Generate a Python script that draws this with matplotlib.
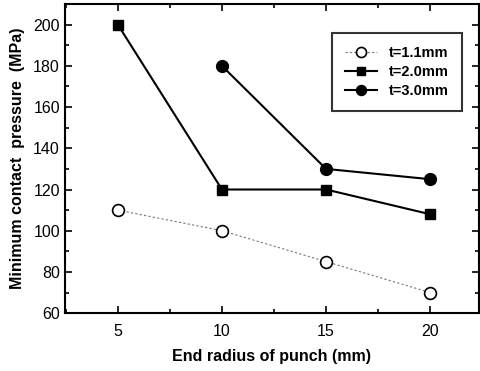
import numpy as np
import matplotlib.pyplot as plt
from matplotlib.ticker import MultipleLocator

plt.rcParams['font.family'] = ['Liberation Sans', 'DejaVu Sans']

# end radius of punch (mm)
radius_11 = [5, 10, 15, 20]
radius_20 = [5, 10, 15, 20]
radius_30 = [10, 15, 20]

# minimum contact pressure (MPa)
press_11 = [110, 100, 85, 70]
press_20 = [200, 120, 120, 108]
press_30 = [180, 130, 125]

labels = ['t=1.1mm', 't=2.0mm', 't=3.0mm']

fig = plt.figure(figsize=(4.8, 3.71), dpi=100)
ax = fig.add_axes([0.135, 0.156, 0.863, 0.833])

ax.plot(radius_11, press_11, color='#777777', lw=0.8, ls=(0, (2, 2)),
        marker='o', ms=8.5, mfc='white', mec='black', mew=1.2, label=labels[0])
ax.plot(radius_20, press_20, color='black', lw=1.5,
        marker='s', ms=7, mfc='black', mec='black', label=labels[1])
ax.plot(radius_30, press_30, color='black', lw=1.5,
        marker='o', ms=8.5, mfc='black', mec='black', label=labels[2])

ax.set_xlim(2.45, 22.35)
ax.set_ylim(60, 210)
ax.xaxis.set_major_locator(MultipleLocator(5))
ax.xaxis.set_minor_locator(MultipleLocator(2.5))
ax.yaxis.set_major_locator(MultipleLocator(20))
ax.yaxis.set_minor_locator(MultipleLocator(10))
ax.tick_params(which='both', direction='in', top=True, right=True, width=1.2)
ax.tick_params(which='major', length=5, labelsize=11.5)
ax.tick_params(axis='x', which='major', pad=8)
ax.tick_params(which='minor', length=3)
for s in ax.spines.values():
    s.set_linewidth(1.5)

ax.set_xlabel('End radius of punch (mm)', fontsize=11.5, fontweight='bold', labelpad=7)
ax.set_ylabel('Minimum contact  pressure  (MPa)', fontsize=11.5, fontweight='bold', labelpad=6)

leg = ax.legend(loc='upper right', bbox_to_anchor=(0.976, 0.93), frameon=True,
                fancybox=False, edgecolor='black',
                prop={'weight': 'bold', 'size': 10.5}, handlelength=2.2,
                borderpad=0.9, labelspacing=0.35, markerscale=0.85)
leg.get_frame().set_linewidth(1.5)

fig.savefig('out.png', dpi=100)
